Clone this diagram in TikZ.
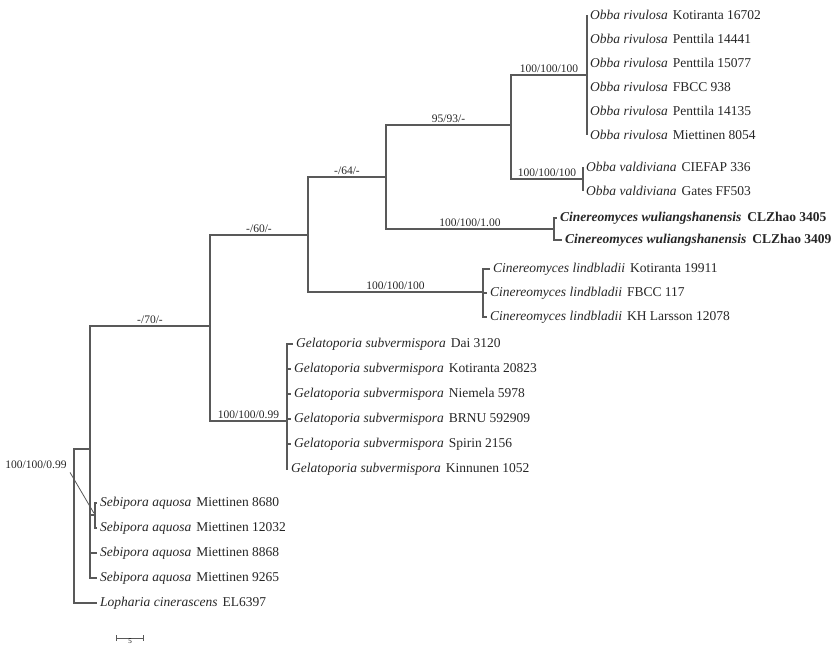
\documentclass[tikz,border=0pt]{standalone}
\usepackage{fontspec}
\setmainfont{Liberation Serif}
\usepackage{xcolor}
\usetikzlibrary{arrows.meta}
\tikzset{
taxon/.style = {anchor=west, inner sep=3pt, text=black!85,
                font=\fontsize{13.5}{15}\selectfont},
}
\tikzset{
supp/.style = {pos=0.75, above, inner sep=2pt, text=black!85,
               font=\fontsize{11.5}{13}\selectfont}
}
\tikzset{
branch/.style = {draw=black!65, line width=1.1pt}
}
\newcommand{\taxname}[2]{\textit{#1}\hspace{5pt}#2}
\newcommand{\taxbold}[2]{\textbf{\textit{#1}\hspace{6pt}#2}}

\begin{document}
\begin{tikzpicture}[x=1pt, y=-1pt]
    \useasboundingbox (0,0) rectangle (831,647);

    % internal nodes
    \coordinate (rootNode) at (74,526);
    \coordinate (ingNode) at (90,449);
    \coordinate (sebNode) at (95,515);
    \coordinate (n70) at (210,326);
    \coordinate (gelNode) at (287,421);
    \coordinate (n60) at (308,235);
    \coordinate (linNode) at (483,292);
    \coordinate (n64) at (386,177);
    \coordinate (wulNode) at (554,229);
    \coordinate (n95) at (511,125);
    \coordinate (rivNode) at (587,75);
    \coordinate (valNode) at (583,179);

    % taxa
    \node[taxon] (rivKot) at (587,15) {\taxname{Obba rivulosa}{Kotiranta 16702}};
    \node[taxon] (rivPenA) at (587,39) {\taxname{Obba rivulosa}{Penttila 14441}};
    \node[taxon] (rivPenB) at (587,63) {\taxname{Obba rivulosa}{Penttila 15077}};
    \node[taxon] (rivFbcc) at (587,87) {\taxname{Obba rivulosa}{FBCC 938}};
    \node[taxon] (rivPenC) at (587,111) {\taxname{Obba rivulosa}{Penttila 14135}};
    \node[taxon] (rivMie) at (587,135) {\taxname{Obba rivulosa}{Miettinen 8054}};
    \node[taxon] (valCie) at (583,167) {\taxname{Obba valdiviana}{CIEFAP 336}};
    \node[taxon] (valGat) at (583,191) {\taxname{Obba valdiviana}{Gates FF503}};
    \node[taxon] (wulA) at (557,218) {\taxbold{Cinereomyces wuliangshanensis}{CLZhao 3405}};
    \node[taxon] (wulB) at (562,240) {\taxbold{Cinereomyces wuliangshanensis}{CLZhao 3409}};
    \node[taxon] (linKot) at (490,269) {\taxname{Cinereomyces lindbladii}{Kotiranta 19911}};
    \node[taxon] (linFbcc) at (487,293) {\taxname{Cinereomyces lindbladii}{FBCC 117}};
    \node[taxon] (linKh) at (487,317) {\taxname{Cinereomyces lindbladii}{KH Larsson 12078}};
    \node[taxon] (gelDai) at (293,344) {\taxname{Gelatoporia subvermispora}{Dai 3120}};
    \node[taxon] (gelKot) at (291,369) {\taxname{Gelatoporia subvermispora}{Kotiranta 20823}};
    \node[taxon] (gelNie) at (291,394) {\taxname{Gelatoporia subvermispora}{Niemela 5978}};
    \node[taxon] (gelBrnu) at (291,419) {\taxname{Gelatoporia subvermispora}{BRNU 592909}};
    \node[taxon] (gelSpi) at (291,444) {\taxname{Gelatoporia subvermispora}{Spirin 2156}};
    \node[taxon] (gelKin) at (288,469) {\taxname{Gelatoporia subvermispora}{Kinnunen 1052}};
    \node[taxon] (sebA) at (97,503) {\taxname{Sebipora aquosa}{Miettinen 8680}};
    \node[taxon] (sebB) at (97,528) {\taxname{Sebipora aquosa}{Miettinen 12032}};
    \node[taxon] (sebC) at (97,553) {\taxname{Sebipora aquosa}{Miettinen 8868}};
    \node[taxon] (sebD) at (97,578) {\taxname{Sebipora aquosa}{Miettinen 9265}};
    \node[taxon] (lopEl) at (97,603) {\taxname{Lopharia cinerascens}{EL6397}};

    % branches
    \draw[branch] (rootNode) |- (ingNode);
    \draw[branch] (rootNode) |- (lopEl.west);
    \draw[branch] (ingNode) |- node[supp]{-/70/-} (n70);
    \draw[branch] (ingNode) |- (sebNode);
    \draw[branch] (ingNode) |- (sebC.west);
    \draw[branch] (ingNode) |- (sebD.west);
    \draw[branch] (sebNode) |- (sebA.west);
    \draw[branch] (sebNode) |- (sebB.west);

    \draw[branch] (n70) |- node[supp]{-/60/-} (n60);
    \draw[branch] (n70) |- node[supp]{100/100/0.99} (gelNode);
    \draw[branch] (gelNode) |- (gelDai.west);
    \draw[branch] (gelNode) |- (gelKot.west);
    \draw[branch] (gelNode) |- (gelNie.west);
    \draw[branch] (gelNode) |- (gelBrnu.west);
    \draw[branch] (gelNode) |- (gelSpi.west);
    \draw[branch] (gelNode) |- (gelKin.west);

    \draw[branch] (n60) |- node[supp]{-/64/-} (n64);
    \draw[branch] (n60) |- node[supp]{100/100/100} (linNode);
    \draw[branch] (linNode) |- (linKot.west);
    \draw[branch] (linNode) |- (linFbcc.west);
    \draw[branch] (linNode) |- (linKh.west);

    \draw[branch] (n64) |- node[supp]{95/93/-} (n95);
    \draw[branch] (n64) |- node[supp]{100/100/1.00} (wulNode);
    \draw[branch] (wulNode) |- (wulA.west);
    \draw[branch] (wulNode) |- (wulB.west);

    \draw[branch] (n95) |- node[supp]{100/100/100} (rivNode);
    \draw[branch] (n95) |- node[supp]{100/100/100} (valNode);
    \draw[branch] (rivNode) |- (rivKot.west);
    \draw[branch] (rivNode) |- (rivPenA.west);
    \draw[branch] (rivNode) |- (rivPenB.west);
    \draw[branch] (rivNode) |- (rivFbcc.west);
    \draw[branch] (rivNode) |- (rivPenC.west);
    \draw[branch] (rivNode) |- (rivMie.west);
    \draw[branch] (valNode) |- (valCie.west);
    \draw[branch] (valNode) |- (valGat.west);

    % support value pointing at the Sebipora clade
    \node[text=black!85, font=\fontsize{11.5}{13}\selectfont] (lblSeb) at (36,465) {100/100/0.99};
    \draw[draw=black!65, line width=0.8pt, shorten >=2pt] (lblSeb.south east) -- (sebNode);

    % scale bar
    \coordinate (barL) at (116,638);
    \coordinate (barR) at (144,638);
    \draw[branch, line width=0.8pt, {Bar[width=6pt]}-{Bar[width=6pt]}] (barL) -- node[below, inner sep=1pt, font=\fontsize{7}{8}\selectfont]{5} (barR);
  \end{tikzpicture}
\end{document}
